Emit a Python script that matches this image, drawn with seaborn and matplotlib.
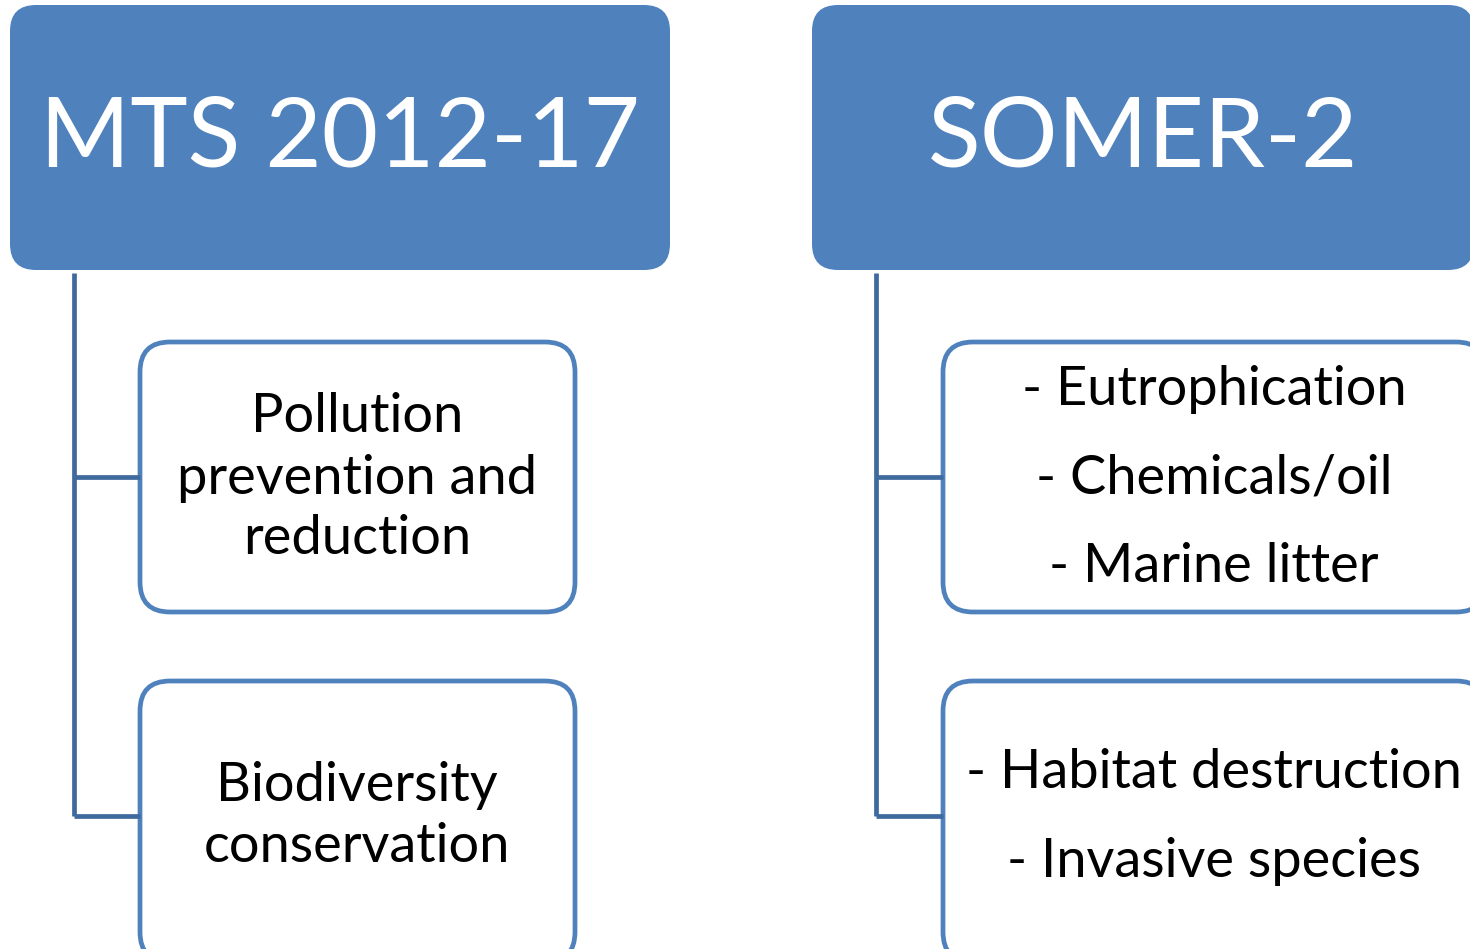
import matplotlib
matplotlib.use("Agg")
import matplotlib.pyplot as plt
from matplotlib.patches import FancyBboxPatch
import seaborn as sns

# Diagram content
headers = ["MTS 2012-17", "SOMER-2"]
left_items = ["Pollution\nprevention and\nreduction", "Biodiversity\nconservation"]
right_items = [["- Eutrophication", "- Chemicals/oil", "- Marine litter"],
               ["- Habitat destruction", "- Invasive species"]]

sns.set_theme(style="white")
plt.rcParams['font.family'] = ['Lato', 'DejaVu Sans']

FILL = "#4F81BD"
LINE = "#3F6A9E"

fig = plt.figure(figsize=(14.7, 9.49), dpi=100)
ax = fig.add_axes([0, 0, 1, 1])
ax.set_xlim(0, 1470)
ax.set_ylim(949, 0)
ax.axis("off")


def rbox(x0, y0, x1, y1, r, face, edge, lw):
    p = FancyBboxPatch((x0 + r, y0 + r), (x1 - x0) - 2 * r, (y1 - y0) - 2 * r,
                       boxstyle=f"round,pad={r},rounding_size={r}",
                       fc=face, ec=edge, lw=lw, mutation_aspect=1)
    ax.add_patch(p)


# header columns: (left, right, connector x, child left, child right)
cols = [(10, 670, 74, 140, 575), (812, 1474, 876, 943, 1486)]
child_rows = [(342, 612), (681, 962)]
branch_ys = [477, 816]

for (hx0, hx1, cx, bx0, bx1), title in zip(cols, headers):
    rbox(hx0, 5, hx1, 270, 26, FILL, FILL, 0)
    ax.text((hx0 + hx1) / 2, 139, title, color="white", fontsize=70,
            ha="center", va="center")
    ax.plot([cx, cx], [273, 816], color=LINE, lw=3.4, solid_capstyle="butt")
    for (by0, by1), ymid in zip(child_rows, branch_ys):
        ax.plot([cx, bx0], [ymid, ymid], color=LINE, lw=3.4, solid_capstyle="butt")
        rbox(bx0, by0, bx1, by1, 30, "white", FILL, 3.4)

# left child texts
for yc, label in zip([478, 816], left_items):
    ax.text(357, yc, label, color="black", fontsize=39, ha="center",
            va="center", linespacing=1.3)

# right child texts
right_ys = [[389, 478, 567], [773, 862]]
for items, ys in zip(right_items, right_ys):
    for label, y in zip(items, ys):
        ax.text(1214, y, label, color="black", fontsize=39, ha="center",
                va="center")

fig.savefig("out.png", dpi=100)
